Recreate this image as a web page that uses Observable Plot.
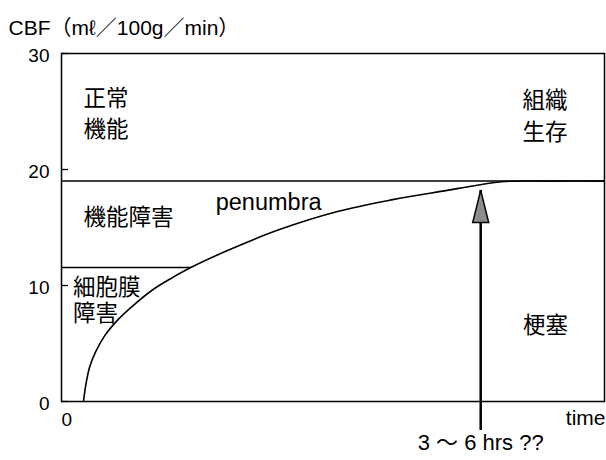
<!DOCTYPE html>
<html>
<head>
<meta charset="utf-8">
<script src="https://cdn.jsdelivr.net/npm/d3@7"></script>
<script src="https://cdn.jsdelivr.net/npm/@observablehq/plot@0.6"></script>
<style>
  html, body { margin: 0; padding: 0; background: #fff; }
  #chart svg { display: block; }
</style>
</head>
<body>
<div id="chart"></div>
<script>
// ---- data ----
const yTicks = [0, 10, 20, 30];
const yLabel = "CBF（mℓ／100g／min）";
const xLabel = "time";
const arrowLabel = "3 ～ 6 hrs ??";

// CBF curve after occlusion (time in arbitrary units 0–100)
const curveT = [4.05, 4.5, 5.2, 6.3, 8.0, 10.5, 13.5, 17.0, 20.5, 23.8, 31.0, 40.0, 51.0, 61.0, 71.0, 76.0, 81.0, 90.0, 100];
const curveV = [0, 1.5, 3.0, 4.3, 5.7, 7.1, 8.4, 9.7, 10.7, 11.55, 13.1, 14.8, 16.4, 17.4, 18.2, 18.6, 18.95, 19, 19];

// thresholds: value, and the time where the line ends
const thresholdV = [19, 11.55];
const thresholdEnd = [100, 23.8];

// arrow marking the therapeutic window
const arrowT = 77.2;
const arrowTip = 18.2;
const arrowBase = -2.5;

// region labels
const regionText = ["正常", "機能", "組織", "生存", "機能障害", "細胞膜", "障害", "梗塞", "penumbra"];
const regionT    = [4.05, 4.05, 84.9, 84.9, 4.05, 2.1, 2.1, 85.0, 28.4];
const regionV    = [26.1, 23.4, 25.95, 23.2, 15.85, 9.8, 7.55, 6.55, 17.15];

// ---- build ----
const curve = curveT.map((t, i) => ({t, v: curveV[i]}));
const thresholds = thresholdV.map((v, i) => ({v, end: thresholdEnd[i]}));
const regions = regionText.map((label, i) => ({label, t: regionT[i], v: regionV[i], latin: /^[a-z]/.test(label)}));

const latin = "'Liberation Sans', Arial, sans-serif";
const cjk = "'Liberation Sans', 'Noto Sans CJK JP', sans-serif";

const arrowHead = {
  draw(ctx) {
    const w = 8, h = 32;
    ctx.moveTo(0, 0);
    ctx.lineTo(w, h);
    ctx.lineTo(-w, h);
    ctx.closePath();
  }
};

const chart = Plot.plot({
  width: 606,
  height: 460,
  marginLeft: 61,
  marginRight: 2,
  marginTop: 53,
  marginBottom: 59,
  style: {fontFamily: latin, background: "#fff", color: "#000"},
  x: {domain: [0, 100], axis: null},
  y: {domain: [0, 30], axis: null},
  marks: [
    Plot.frame({stroke: "#000", strokeWidth: 1.5}),
    Plot.axisY(yTicks, {tickSize: -7, text: null, label: null, stroke: "#000", strokeWidth: 1.3}),
    Plot.axisY(yTicks, {tickSize: 0, tickPadding: 12, label: null, fontSize: 19, fill: "#000", dy: 2}),
    Plot.ruleY(thresholds, {y: "v", x1: 0, x2: "end", stroke: "#000", strokeWidth: 1.5}),
    Plot.line(curve, {x: "t", y: "v", curve: "catmull-rom", stroke: "#000", strokeWidth: 1.6}),
    Plot.ruleX([arrowT], {y1: arrowBase, y2: arrowTip, stroke: "#000", strokeWidth: 2.5}),
    Plot.dot([arrowT], {x: d => d, y: () => arrowTip, symbol: arrowHead, fill: "#8c8c8c", stroke: "#000", strokeWidth: 1.5}),
    Plot.text(regions.filter(d => !d.latin), {x: "t", y: "v", text: "label", textAnchor: "start", fontSize: 22.5, fontFamily: cjk, fill: "#000"}),
    Plot.text(regions.filter(d => d.latin), {x: "t", y: "v", text: "label", textAnchor: "start", fontSize: 23.5, fill: "#000"}),
    Plot.text([yLabel], {frameAnchor: "top-left", dx: -53, dy: -33, textAnchor: "start", fontSize: 21, fontFamily: cjk, fill: "#000"}),
    Plot.text(["0"], {frameAnchor: "bottom-left", dy: 24, fontSize: 19, fill: "#000"}),
    Plot.text([xLabel], {frameAnchor: "bottom-right", textAnchor: "end", dy: 23, dx: 1, fontSize: 21, fill: "#000"}),
    Plot.text([arrowLabel], {x: () => arrowT, frameAnchor: "bottom", dy: 48, fontSize: 22, fontFamily: cjk, fill: "#000"})
  ]
});

document.getElementById("chart").appendChild(chart);
</script>
</body>
</html>
